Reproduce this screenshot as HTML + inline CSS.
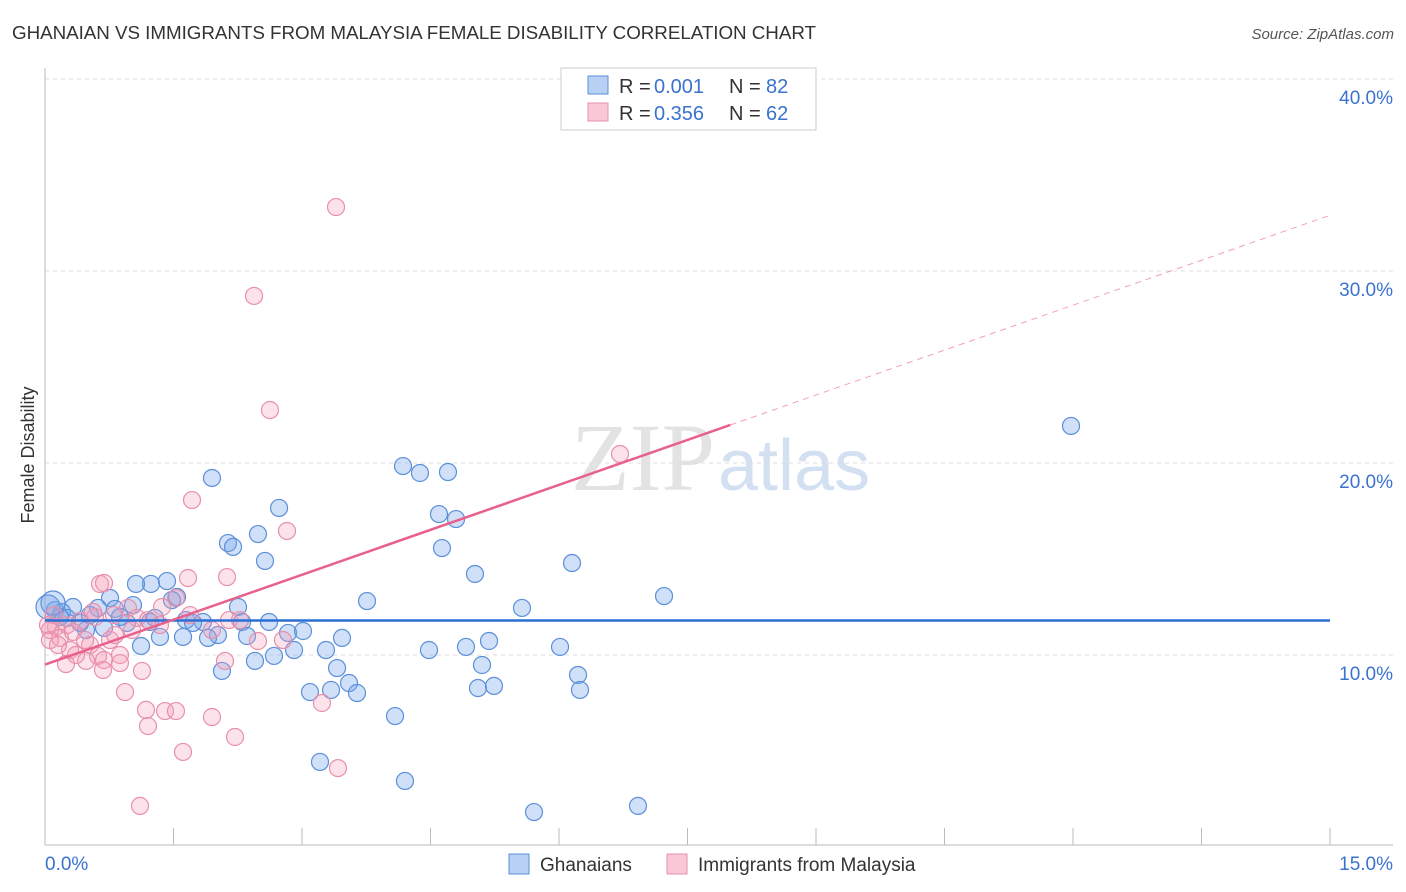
<!DOCTYPE html>
<html><head><meta charset="utf-8"><style>
body{margin:0;background:#fff;font-family:"Liberation Sans",sans-serif;}
#c{position:absolute;left:0;top:0;}
</style></head><body>
<svg id="c" width="1406" height="892" xmlns="http://www.w3.org/2000/svg">
<text x="12" y="39" font-size="18.8" fill="#333" textLength="804">GHANAIAN VS IMMIGRANTS FROM MALAYSIA FEMALE DISABILITY CORRELATION CHART</text>
<text x="1394" y="39" font-size="15" fill="#555" font-style="italic" text-anchor="end">Source: ZipAtlas.com</text>
<text x="34" y="455" font-size="18" fill="#333" text-anchor="middle" transform="rotate(-90 34 455)">Female Disability</text>
<text x="715" y="490" font-size="96" fill="#ddd" font-family="Liberation Serif,serif" text-anchor="end" opacity="0.8">ZIP</text>
<text x="718" y="490" font-size="72" fill="#c9d9f0" opacity="0.8">atlas</text>
<g id="grid"></g><g id="axes"></g><g id="pts"></g><g id="lines"></g>
<g>
<rect x="561" y="68" width="255" height="62" fill="#fff" stroke="#ccc"/>
<rect x="588" y="76" width="20" height="18" fill="#b8d0f3" stroke="#5b8fd9"/>
<rect x="588" y="103" width="20" height="18" fill="#f9c7d6" stroke="#e890ab"/>
<text x="619" y="93" font-size="20" fill="#333">R =</text><text x="654" y="93" font-size="20" fill="#3a72d0">0.001</text>
<text x="729" y="93" font-size="20" fill="#333">N =</text><text x="766" y="93" font-size="20" fill="#3a72d0">82</text>
<text x="619" y="120" font-size="20" fill="#333">R =</text><text x="654" y="120" font-size="20" fill="#3a72d0">0.356</text>
<text x="729" y="120" font-size="20" fill="#333">N =</text><text x="766" y="120" font-size="20" fill="#3a72d0">62</text>
</g>
<g>
<rect x="509" y="854" width="20" height="20" fill="#b8d0f3" stroke="#5b8fd9"/>
<text x="540" y="871" font-size="19" fill="#333">Ghanaians</text>
<rect x="667" y="854" width="20" height="20" fill="#f9c7d6" stroke="#e890ab"/>
<text x="698" y="871" font-size="19" fill="#333">Immigrants from Malaysia</text>
</g>
</svg>
<script>
const yTicks=[10,20,30,40];
const xTickLabels=["0.0%","15.0%"];
const bluePx=[[212,478],[228,543],[233,547],[258,534],[279,508],[265,561],[403,466],[420,473],[448,472],[439,514],[456,519],[442,548],[475,574],[572,563],[664,596],[1071,426],[522,608],[367,601],[238,607],[167,581],[151,584],[136,584],[110,598],[177,597],[98,608],[73,607],[55,610],[62,612],[115,609],[127,623],[150,622],[186,620],[203,622],[242,622],[269,622],[288,633],[303,631],[247,636],[218,635],[208,638],[183,637],[160,637],[141,646],[104,628],[86,630],[342,638],[326,650],[294,650],[274,656],[255,661],[222,671],[337,668],[349,683],[357,693],[331,690],[310,692],[429,650],[466,647],[489,641],[482,665],[560,647],[578,675],[580,690],[478,688],[494,686],[395,716],[320,762],[405,781],[534,812],[638,806],[67,618],[80,623],[120,617],[193,623],[155,618],[172,600],[133,605],[60,617],[90,615],[48,607],[53,603]];
const pinkPx=[[336,207],[254,296],[270,410],[620,454],[192,500],[287,531],[227,577],[188,578],[100,584],[104,583],[176,598],[162,607],[128,608],[137,618],[148,620],[114,615],[95,617],[80,621],[67,625],[56,627],[50,630],[60,638],[73,632],[90,645],[110,640],[115,635],[120,655],[98,656],[86,661],[104,660],[70,650],[66,664],[120,663],[142,671],[225,661],[258,641],[283,640],[229,620],[212,630],[125,692],[146,710],[165,711],[176,711],[212,717],[148,726],[235,737],[183,752],[322,703],[338,768],[140,806],[50,640],[58,645],[76,655],[103,670],[240,620],[190,615],[160,625],[132,630],[85,640],[93,612],[54,615],[48,625]];
const blueX=bluePx.map(p=>+((p[0]-45)/1285*15).toFixed(3)), blueY=bluePx.map(p=>+((847-p[1])/19.2).toFixed(2));
const pinkX=pinkPx.map(p=>+((p[0]-45)/1285*15).toFixed(3)), pinkY=pinkPx.map(p=>+((847-p[1])/19.2).toFixed(2));
const blueFit=[11.8,11.8];
const pinkFit=[9.5,32.9];
const pinkSolidEnd=8.0;
const sx=v=>45+v/15*1285, sy=v=>847-v*19.2;
const NS="http://www.w3.org/2000/svg";
function mk(t,a,p){const e=document.createElementNS(NS,t);for(const k in a)e.setAttribute(k,a[k]);p.appendChild(e);return e;}
const grid=document.getElementById('grid'),axes=document.getElementById('axes'),pts=document.getElementById('pts'),lines=document.getElementById('lines');
yTicks.forEach(t=>{
 const l=mk('line',{x1:45,x2:1393,y1:sy(t),y2:sy(t),stroke:'#ddd','stroke-dasharray':'4 4'},grid);
 
 
 const tx=mk('text',{x:1393,y:sy(t)+25,'font-size':19,fill:'#3a72d0','text-anchor':'end'},grid);
 tx.textContent=t.toFixed(1)+'%';
 
 
});
const ax=mk('path',{d:'M45 68V845H1393',fill:'none',stroke:'#bbb'},axes);


for(let i=0;i<=10;i++){const x=sx(i*1.5);const t=mk('line',{x1:x,x2:x,y1:828,y2:845,stroke:'#bbb'},axes);
 
 }
const xl0=mk('text',{x:45,y:870,'font-size':19,fill:'#3a72d0'},axes);xl0.textContent=xTickLabels[0];


const xl1=mk('text',{x:1393,y:870,'font-size':19,fill:'#3a72d0','text-anchor':'end'},axes);xl1.textContent=xTickLabels[1];


blueX.forEach((x,i)=>{const r=(i>=blueX.length-2)?12:8.5;
 const c=mk('circle',{cx:sx(x),cy:sy(blueY[i]),r:r,fill:'rgba(120,165,235,0.35)',stroke:'#5b8fd9','stroke-width':1.2},pts);
 
 });
pinkX.forEach((x,i)=>{const c=mk('circle',{cx:sx(x),cy:sy(pinkY[i]),r:8.5,fill:'rgba(245,160,185,0.3)',stroke:'#e890ab','stroke-width':1.2},pts);
 
 });
const bl=mk('line',{x1:sx(0),x2:sx(15),y1:sy(blueFit[0]),y2:sy(blueFit[1]),stroke:'#2a6fd4','stroke-width':2.5},lines);


const pf=x=>pinkFit[0]+(pinkFit[1]-pinkFit[0])*x/15;
const pl=mk('line',{x1:sx(0),x2:sx(pinkSolidEnd),y1:sy(pf(0)),y2:sy(pf(pinkSolidEnd)),stroke:'#e8608c','stroke-width':2.5},lines);


const pd=mk('line',{x1:sx(pinkSolidEnd),x2:sx(15),y1:sy(pf(pinkSolidEnd)),y2:sy(pf(15)),stroke:'#e8608c','stroke-width':1,'stroke-dasharray':'6 5',opacity:0.6},lines);


</script>
</body></html>
